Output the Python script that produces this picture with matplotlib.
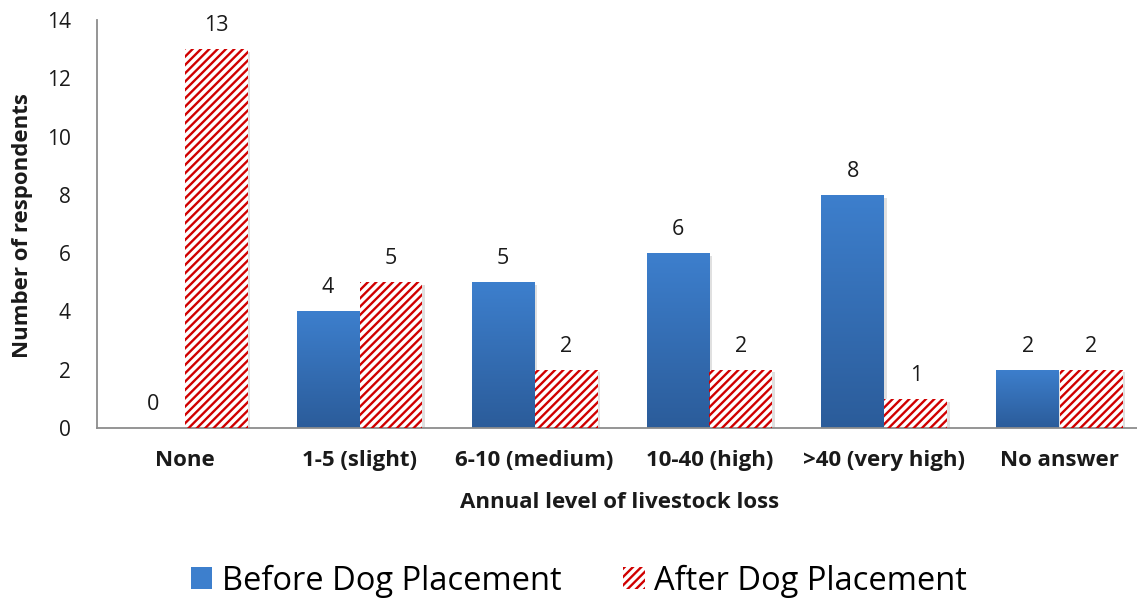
import numpy as np
import matplotlib
matplotlib.use("Agg")
import matplotlib.pyplot as plt
from matplotlib.patches import Rectangle, Patch
import matplotlib.patheffects as pe
from matplotlib.colors import LinearSegmentedColormap

categories = ["None", "1-5 (slight)", "6-10 (medium)", "10-40 (high)", ">40 (very high)", "No answer"]
before = [0, 4, 5, 6, 8, 2]
after = [13, 5, 2, 2, 1, 2]
series_names = ["Before Dog Placement", "After Dog Placement"]
y_ticks = [0, 2, 4, 6, 8, 10, 12, 14]

plt.rcParams["font.family"] = ["Open Sans", "DejaVu Sans"]
plt.rcParams["hatch.linewidth"] = 1.7

W, H = 1137, 600
fig = plt.figure(figsize=(W / 100, H / 100), dpi=100)
left_px, right_px, top_px, bottom_px = 97, 1137, 20, 428
ax = fig.add_axes([left_px / W, 1 - bottom_px / H, (right_px - left_px) / W, (bottom_px - top_px) / H])
px_per_unit = (bottom_px - top_px) / 14.0

group_w = 175.0
bar_w = 63.0 / group_w
x = np.arange(len(categories))

blue_top = "#3d7fcd"
blue_bot = "#2b5c9a"
red = "#d00000"
ink = "#1a1a1a"
grad = LinearSegmentedColormap.from_list("bluegrad", [blue_bot, blue_top])
shadow = [pe.SimplePatchShadow(offset=(2, -2), shadow_rgbFace="#000000", alpha=0.12), pe.Normal()]
label_gap = 18.0 / px_per_unit

for i, v in enumerate(before):
    x0 = x[i] - bar_w
    if v > 0:
        rect = Rectangle((x0, 0), bar_w, v, facecolor=blue_top, edgecolor="none",
                         path_effects=shadow, zorder=2)
        ax.add_patch(rect)
        img = ax.imshow(np.linspace(0, 1, 256).reshape(-1, 1) * np.ones((1, 2)),
                        cmap=grad, origin="lower", aspect="auto",
                        extent=(x0, x0 + bar_w, 0, v), zorder=2.5)
        img.set_clip_path(rect)
    ax.text(x[i] - bar_w / 2, v + label_gap, str(v), ha="center", va="baseline",
            fontsize=15.5, color=ink)

for i, v in enumerate(after):
    x0 = x[i]
    ax.add_patch(Rectangle((x0, 0), bar_w, v, facecolor="white", edgecolor="none",
                           path_effects=shadow, zorder=2))
    ax.add_patch(Rectangle((x0, 0), bar_w, v, facecolor="none", edgecolor=red,
                           hatch="////", linewidth=0, zorder=3))
    ax.text(x[i] + bar_w / 2, v + label_gap, str(v), ha="center", va="baseline",
            fontsize=15.5, color=ink)

ax.set_xlim(-0.5, -0.5 + (right_px - left_px) / group_w)
ax.set_ylim(0, 14)
ax.set_yticks(y_ticks)
ax.set_yticklabels([str(t) for t in y_ticks], fontsize=15, color=ink)
ax.set_xticks(x)
ax.set_xticklabels(categories, fontsize=16, fontweight="bold", color=ink)
ax.tick_params(axis="y", length=0, pad=19)
ax.tick_params(axis="x", length=0, pad=16)

for s in ["top", "right"]:
    ax.spines[s].set_visible(False)
for s in ["left", "bottom"]:
    ax.spines[s].set_color("#8c8c8c")
    ax.spines[s].set_linewidth(1.3)

ax.set_xlabel("Annual level of livestock loss", fontsize=16, fontweight="bold", color=ink, va="center")
ax.xaxis.set_label_coords((620 - left_px) / (right_px - left_px), -(503 - bottom_px) / (bottom_px - top_px))
ax.set_ylabel("Number of respondents", fontsize=16, fontweight="bold", color=ink, va="center")
ax.yaxis.set_label_coords(-(left_px - 22.5) / (right_px - left_px), (bottom_px - 226) / (bottom_px - top_px))

handles = [Patch(facecolor=blue_top, edgecolor="none"),
           Patch(facecolor="white", edgecolor=red, hatch="////", linewidth=0)]
fig.legend(handles, series_names, loc="center", bbox_to_anchor=(579 / W, 1 - 581 / H),
           ncol=2, frameon=False, fontsize=23.5, handlelength=0.65, handleheight=0.65,
           handletextpad=0.3, columnspacing=1.9, borderpad=0)

fig.savefig("out.png", dpi=100)
